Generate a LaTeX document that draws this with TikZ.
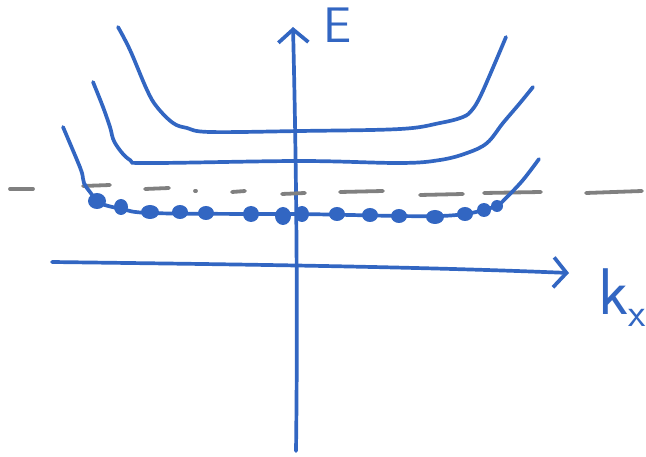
\documentclass[tikz,border=0pt]{standalone}
\usepackage{xcolor}
\usetikzlibrary{arrows.meta}
\definecolor{inkblue}{RGB}{50,102,194}
\definecolor{inkgray}{RGB}{128,128,128}

\begin{document}
\begin{tikzpicture}[x=1pt, y=-1pt, line cap=round, line join=round,
    pen/.style={draw=inkblue, line width=3.7pt},
    axis/.style={pen, -{Straight Barb[length=13pt,width=30pt,line width=3.7pt]}},
    fermi/.style={draw=inkgray, line width=3.8pt},
    label/.style={text=inkblue, font=\sffamily, inner sep=0pt}]
  \useasboundingbox (0,0) rectangle (646,457);
  % axes
  \coordinate (Ebot) at (296,451);
  \coordinate (Etop) at (293,27);
  \coordinate (kleft) at (52,262);
  \coordinate (kright) at (569,273);
  \draw[axis] (Ebot) .. controls (298,300) and (296,150) .. (Etop);
  \draw[axis] (kleft) .. controls (200,264) and (400,266) .. (kright);
  \node[label, font=\sffamily\fontsize{50}{50}\selectfont] (Elab) at (338,25) {E};
  \node[label, font=\sffamily\fontsize{66}{66}\selectfont, anchor=west] (klab) at (598,298) {k\raisebox{-12pt}{\fontsize{40}{40}\selectfont x}};
  % Fermi level, drawn dash by dash
  \foreach \xa/\xb/\ya/\yb in {10/33/189/189, 83/110/186/185, 145/169/189/188, 195/196/191/191, 232/245/192/191, 282/305/194/193, 340/383/192/191, 420/463/195/194, 484/541/193/192, 586/642/193/191}
    \draw[fermi] (\xa,\ya) -- (\xb,\yb);
  % bands
  \draw[pen] plot[smooth, tension=0.6] coordinates {(118,27) (130,50) (147,90) (157,107) (173,123) (187,128) (210,132) (300,131) (400,129) (440,123) (463,117) (472,110) (480,97) (492,70) (506,37)};
  \draw[pen] plot[smooth, tension=0.6] coordinates {(93,82) (103,107) (110,127) (115,143) (130,160) (150,163) (300,161) (400,163) (440,160) (467,153) (487,143) (503,123) (520,103) (533,87)};
  \draw[pen] plot[smooth, tension=0.6] coordinates {(63,127) (77,160) (82,173) (84,183) (90,192) (100,203) (122,209) (150,213) (250,214) (300,214) (400,216) (440,216) (465,214) (484,210) (498,205) (507,197) (523,180) (539,159)};
  % occupied states
  \foreach \x/\y/\rx/\ry in {97/201/9/8, 121/207/7/8, 150/212/9/7, 180/212/8/7, 206/213/8/7, 251/214/8/8, 283/216/8/9, 302/214/7/8, 337/214/8/7, 370/215/8/7, 399/216/8/7, 435/217/9/7, 465/214/8/7, 484/210/7/7, 497/206/6/6}
    \fill[inkblue] (\x,\y) ellipse [x radius=\rx, y radius=\ry];
\end{tikzpicture}
\end{document}
